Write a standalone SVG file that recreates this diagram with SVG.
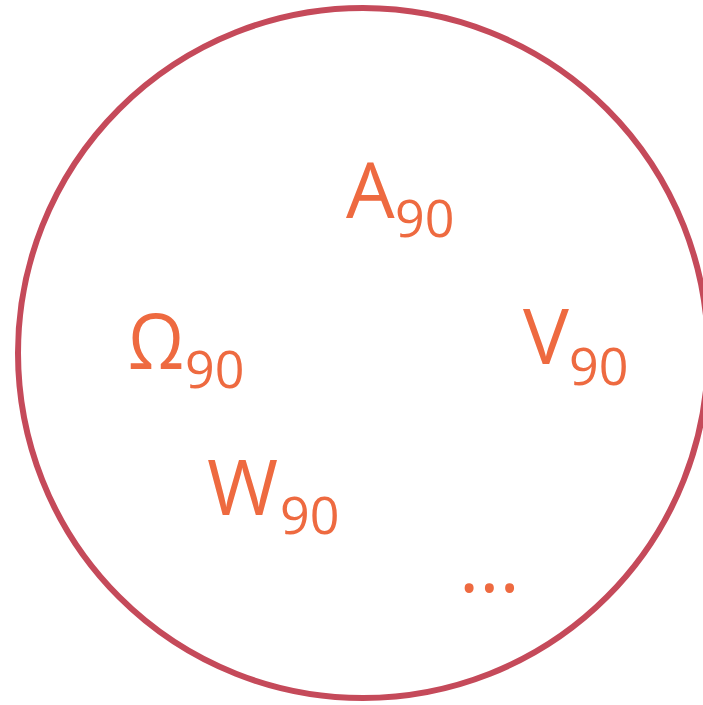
<svg xmlns="http://www.w3.org/2000/svg" width="703" height="705" viewBox="0 0 703 705">
<style>
.ring{fill:none;stroke:#C54A5A;stroke-width:6}
.m{font-family:"Open Sans","Liberation Sans",sans-serif;font-size:77px;fill:#EE6A40}
.s{font-family:"Open Sans","Liberation Sans",sans-serif;font-size:52px;fill:#EE6A40}
</style>
<rect width="703" height="705" fill="#FFFFFF"/>
<g id="circle"><circle class="ring" cx="363" cy="353" r="345"/></g>
<g id="A"><text class="m" x="346" y="218">A</text><text class="s" x="395" y="237">90</text></g>
<g id="Omega"><text class="m" x="128" y="369" textLength="56" lengthAdjust="spacingAndGlyphs">Ω</text><text class="s" x="185" y="388">90</text></g>
<g id="V"><text class="m" x="523" y="364">V</text><text class="s" x="569" y="385">90</text></g>
<g id="W"><text class="m" x="207" y="515">W</text><text class="s" x="280" y="534">90</text></g>
<g id="dots"><text class="m" x="459" y="592">...</text></g>
</svg>
